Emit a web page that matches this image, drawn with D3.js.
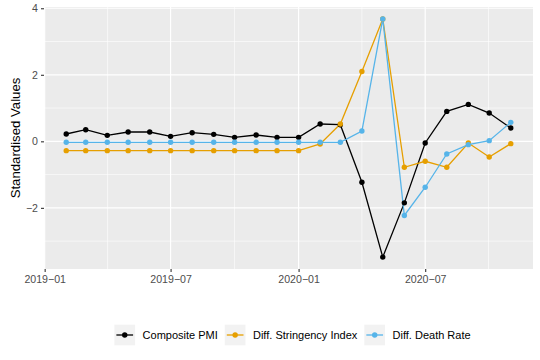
<!DOCTYPE html>
<html>
<head>
<meta charset="utf-8">
<script src="https://cdn.jsdelivr.net/npm/d3@7"></script>
<style>
  body { margin: 0; background: #fff; }
  svg { display: block; font-family: "Liberation Sans", Arial, sans-serif; }
</style>
</head>
<body>
<div id="container"></div>
<script>
const months = ["2019-02","2019-03","2019-04","2019-05","2019-06","2019-07","2019-08","2019-09","2019-10","2019-11","2019-12",
                "2020-01","2020-02","2020-03","2020-04","2020-05","2020-06","2020-07","2020-08","2020-09","2020-10","2020-11"];

const compositePMI = [0.22, 0.35, 0.18, 0.28, 0.28, 0.15, 0.26, 0.21, 0.12, 0.19, 0.12,
                      0.12, 0.52, 0.50, -1.23, -3.48, -1.85, -0.05, 0.90, 1.11, 0.85, 0.40];
const diffStringency = [-0.28, -0.28, -0.28, -0.28, -0.28, -0.28, -0.28, -0.28, -0.28, -0.28, -0.28,
                        -0.28, -0.08, 0.52, 2.10, 3.68, -0.78, -0.60, -0.78, -0.05, -0.47, -0.07];
const diffDeathRate = [-0.03, -0.03, -0.03, -0.03, -0.03, -0.03, -0.03, -0.03, -0.03, -0.03, -0.03,
                       -0.03, -0.03, -0.03, 0.31, 3.68, -2.23, -1.38, -0.38, -0.10, 0.02, 0.57];

const seriesNames = ["Composite PMI", "Diff. Stringency Index", "Diff. Death Rate"];
const seriesColors = ["#000000", "#E69F00", "#56B4E9"];
const yTicks = [-2, 0, 2, 4];
const yMinor = [-3, -1, 1, 3];
const xTickLabels = ["2019-01", "2019-07", "2020-01", "2020-07"];

const parseMonth = d3.timeParse("%Y-%m");
const width = 540, height = 360;
const panel = { left: 44, top: 7, right: 533, bottom: 269 };

const series = seriesNames.map((name, i) => ({
  name,
  color: seriesColors[i],
  values: [compositePMI, diffStringency, diffDeathRate][i].map((v, j) => ({ date: parseMonth(months[j]), value: v }))
}));

// ggplot-style 5% expansion
const dates = months.map(parseMonth);
const dExt = d3.extent(dates);
const dPad = (dExt[1] - dExt[0]) * 0.05;
const xScale = d3.scaleTime()
  .domain([new Date(+dExt[0] - dPad), new Date(+dExt[1] + dPad)])
  .range([panel.left, panel.right]);

const allVals = compositePMI.concat(diffStringency, diffDeathRate);
const vExt = d3.extent(allVals);
const vPad = (vExt[1] - vExt[0]) * 0.05;
const yScale = d3.scaleLinear()
  .domain([vExt[0] - vPad, vExt[1] + vPad])
  .range([panel.bottom, panel.top]);

const xTicks = xTickLabels.map(parseMonth);
const xMinor = d3.pairs(xTicks).map(([a, b]) => new Date((+a + +b) / 2));
xMinor.push(new Date(+xTicks[3] + (xTicks[3] - xTicks[2]) / 2));

const svg = d3.select("#container")
  .append("svg")
  .attr("width", width)
  .attr("height", height);

// panel
svg.append("rect")
  .attr("x", panel.left).attr("y", panel.top)
  .attr("width", panel.right - panel.left)
  .attr("height", panel.bottom - panel.top)
  .attr("fill", "#EBEBEB");

const grid = svg.append("g");
grid.selectAll(".ymin").data(yMinor).enter().append("line")
  .attr("x1", panel.left).attr("x2", panel.right)
  .attr("y1", d => yScale(d)).attr("y2", d => yScale(d))
  .attr("stroke", "#fff").attr("stroke-width", 0.6);
grid.selectAll(".xmin").data(xMinor).enter().append("line")
  .attr("y1", panel.top).attr("y2", panel.bottom)
  .attr("x1", d => xScale(d)).attr("x2", d => xScale(d))
  .attr("stroke", "#fff").attr("stroke-width", 0.6);
grid.selectAll(".ymaj").data(yTicks).enter().append("line")
  .attr("x1", panel.left).attr("x2", panel.right)
  .attr("y1", d => yScale(d)).attr("y2", d => yScale(d))
  .attr("stroke", "#fff").attr("stroke-width", 1.2);
grid.selectAll(".xmaj").data(xTicks).enter().append("line")
  .attr("y1", panel.top).attr("y2", panel.bottom)
  .attr("x1", d => xScale(d)).attr("x2", d => xScale(d))
  .attr("stroke", "#fff").attr("stroke-width", 1.2);

// lines then points
const line = d3.line()
  .x(d => xScale(d.date))
  .y(d => yScale(d.value));

series.forEach(s => {
  svg.append("path")
    .datum(s.values)
    .attr("fill", "none")
    .attr("stroke", s.color)
    .attr("stroke-width", 1.3)
    .attr("d", line);
});
series.forEach(s => {
  svg.append("g").selectAll("circle")
    .data(s.values)
    .enter()
    .append("circle")
    .attr("cx", d => xScale(d.date))
    .attr("cy", d => yScale(d.value))
    .attr("r", 2.7)
    .attr("fill", s.color);
});

// axes
svg.append("g")
  .attr("transform", `translate(0,${panel.bottom})`)
  .call(d3.axisBottom(xScale).tickValues(xTicks).tickSize(3).tickPadding(3)
    .tickFormat(d => d3.timeFormat("%Y-%m")(d).replace("-", "\u2212")))
  .call(g => g.select(".domain").remove())
  .call(g => g.selectAll(".tick line").attr("stroke", "#333333").attr("stroke-width", 1.1))
  .call(g => g.selectAll(".tick text").attr("fill", "#4D4D4D")
    .style("font-size", "10.6px").style("font-family", "Liberation Sans, Arial, sans-serif"));

svg.append("g")
  .attr("transform", `translate(${panel.left},0)`)
  .call(d3.axisLeft(yScale).tickValues(yTicks).tickSize(3).tickPadding(3)
    .tickFormat(d => d < 0 ? "\u2212" + Math.abs(d) : String(d)))
  .call(g => g.select(".domain").remove())
  .call(g => g.selectAll(".tick line").attr("stroke", "#333333").attr("stroke-width", 1.1))
  .call(g => g.selectAll(".tick text").attr("fill", "#4D4D4D")
    .style("font-size", "10.6px").style("font-family", "Liberation Sans, Arial, sans-serif"));

svg.append("text")
  .attr("transform", `translate(19.5,${(panel.top + panel.bottom) / 2}) rotate(-90)`)
  .attr("text-anchor", "middle")
  .style("font-size", "13.2px")
  .attr("fill", "#000")
  .text("Standardised Values");

// legend
const keySize = 20.7;
const legend = svg.append("g");
let cursor = 0;
series.forEach(s => {
  const g = legend.append("g").attr("transform", `translate(${cursor},0)`);
  g.append("rect").attr("width", keySize).attr("height", keySize).attr("fill", "#F2F2F2");
  g.append("line")
    .attr("x1", 2).attr("x2", keySize - 2)
    .attr("y1", keySize / 2).attr("y2", keySize / 2)
    .attr("stroke", s.color).attr("stroke-width", 1.3);
  g.append("circle").attr("cx", keySize / 2).attr("cy", keySize / 2).attr("r", 2.7).attr("fill", s.color);
  const t = g.append("text")
    .attr("x", keySize + 7.5).attr("y", keySize / 2)
    .attr("dy", "0.36em")
    .style("font-size", "11px")
    .attr("fill", "#000")
    .text(s.name);
  cursor += keySize + 7.5 + t.node().getComputedTextLength() + 7;
});
const legendWidth = cursor - 7;
legend.attr("transform", `translate(${292.5 - legendWidth / 2},${335 - keySize / 2})`);
</script>
</body>
</html>
